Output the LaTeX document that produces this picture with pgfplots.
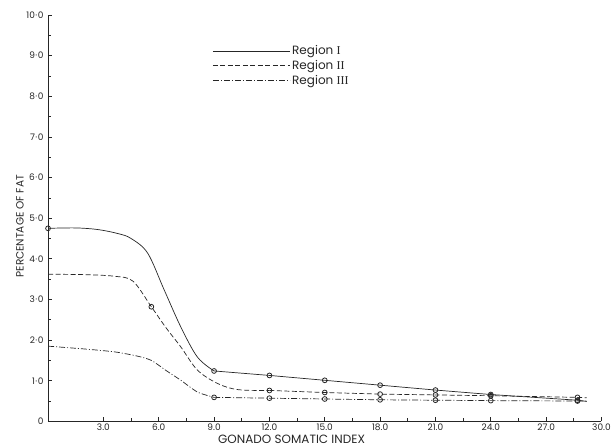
\documentclass[border=0pt]{standalone}
\usepackage{pgfplots}
\pgfplotsset{compat=1.18}
\usepackage{fontspec}
\setmainfont{Poppins}
\newfontfamily\rom{Liberation Serif}
\begin{document}
\begin{tikzpicture}
\begin{axis}[
  scale only axis, width=553pt, height=406pt,
  xmin=0, xmax=30, ymin=0, ymax=10,
  axis lines=left, axis line style={-, line width=0.9pt, black!85},
  xtick={3,6,...,30},
  xticklabels={3.0,6.0,9.0,12.0,15.0,18.0,21.0,24.0,27.0,30.0},
  ytick={0,1,...,10},
  yticklabels={0,1{\kern0.5pt}·{\kern0.5pt}0,2{\kern0.5pt}·{\kern0.5pt}0,3{\kern0.5pt}·{\kern0.5pt}0,4{\kern0.5pt}·{\kern0.5pt}0,5{\kern0.5pt}·{\kern0.5pt}0,6{\kern0.5pt}·{\kern0.5pt}0,7{\kern0.5pt}·{\kern0.5pt}0,8{\kern0.5pt}·{\kern0.5pt}0,9{\kern0.5pt}·{\kern0.5pt}0,10{\kern0.5pt}·{\kern0.5pt}0},
  minor x tick num=1, minor y tick num=1,
  tick align=inside, major tick length=4pt, minor tick length=3pt,
  tick style={black!85, line width=0.7pt},
  /pgf/number format/assume math mode=true,
  ticklabel style={font=\fontsize{9}{10}\selectfont, black!85},
  yticklabel style={xshift=-1pt},
  xticklabel style={yshift=1pt},
  xlabel={GONADO SOMATIC INDEX},
  ylabel={PERCENTAGE OF FAT},
  xlabel style={font=\fontsize{12}{13}\selectfont, at={(axis description cs:0.44,-0.043)}, anchor=center, black!85},
  ylabel style={font=\fontsize{10.5}{11}\selectfont, at={(axis description cs:-0.0506,0.48)}, anchor=center, black!85},
  legend style={at={(axis cs:8.9,9.3)}, anchor=north west, draw=none, fill=none,
    font=\fontsize{12}{13}\selectfont, row sep=0pt, inner sep=0pt,
    cells={anchor=west}, text=black!85},
  legend image code/.code={\draw[#1] (0pt,0pt) -- (77pt,0pt);},
  every axis plot/.append style={black!85, line width=0.7pt},
]
% Region I
\addplot[solid, smooth, tension=0.55] coordinates {
 (0,4.75) (1.5,4.76) (2.7,4.72) (3.8,4.62) (4.5,4.5) (5.4,4.14) (6.3,3.23)
 (7.2,2.32) (8.1,1.58) (9.0,1.24)};
\addlegendentry{Region {\rom I}}
% Region II
\addplot[dash pattern=on 5pt off 2.5pt, smooth, tension=0.55] coordinates {
 (0,3.62) (2,3.61) (3.6,3.57) (4.6,3.45) (5.6,2.82) (6.4,2.3) (7.2,1.83) (8.1,1.26)
 (9.2,0.93) (10.3,0.78) (12,0.76)};
\addlegendentry{Region {\rom II}}
% Region III
\addplot[dash pattern=on 6pt off 2pt on 1pt off 2pt, smooth, tension=0.4] coordinates {
 (0,1.85) (2,1.78) (3.6,1.71) (4.8,1.61) (5.6,1.50) (6.4,1.25) (7.2,1.01) (8.1,0.72) (9.0,0.59)};
\addlegendentry{Region {\rom III}}
% straight tails
\addplot[solid, forget plot] coordinates {
 (9,1.24) (12,1.13) (15,1.01) (18,0.89) (21,0.77) (24,0.66) (28.7,0.52) (29.2,0.49)};
\addplot[dash pattern=on 5pt off 2.5pt, forget plot] coordinates {
 (12,0.76) (15,0.71) (18,0.67) (21,0.65) (24,0.63) (28.7,0.59) (29.2,0.58)};
\addplot[dash pattern=on 6pt off 2pt on 1pt off 2pt, forget plot] coordinates {
 (9,0.59) (12,0.57) (15,0.55) (18,0.53) (21,0.52) (24,0.51) (28.7,0.50) (29.2,0.50)};
% markers
\addplot[only marks, mark=o, mark size=2.4pt, forget plot, mark options={line width=0.8pt}] coordinates {
 (0,4.75) (9,1.24) (12,1.13) (15,1.01) (18,0.89) (21,0.77) (24,0.66) (28.7,0.52)};
\addplot[only marks, mark=o, mark size=2.4pt, forget plot, mark options={line width=0.8pt}] coordinates {
 (5.6,2.82) (12,0.76) (15,0.71) (18,0.67) (21,0.65) (24,0.63) (28.7,0.59)};
\addplot[only marks, mark=o, mark size=2.4pt, forget plot, mark options={line width=0.8pt}] coordinates {
 (9,0.59) (12,0.57) (15,0.55) (18,0.53) (21,0.52) (24,0.51) (28.7,0.50)};
\end{axis}
\pgfresetboundingbox
\path[use as bounding box] ([xshift=-48pt,yshift=-25pt]current axis.south west) rectangle ([xshift=9.5pt,yshift=15pt]current axis.north east);
\end{tikzpicture}
\end{document}
